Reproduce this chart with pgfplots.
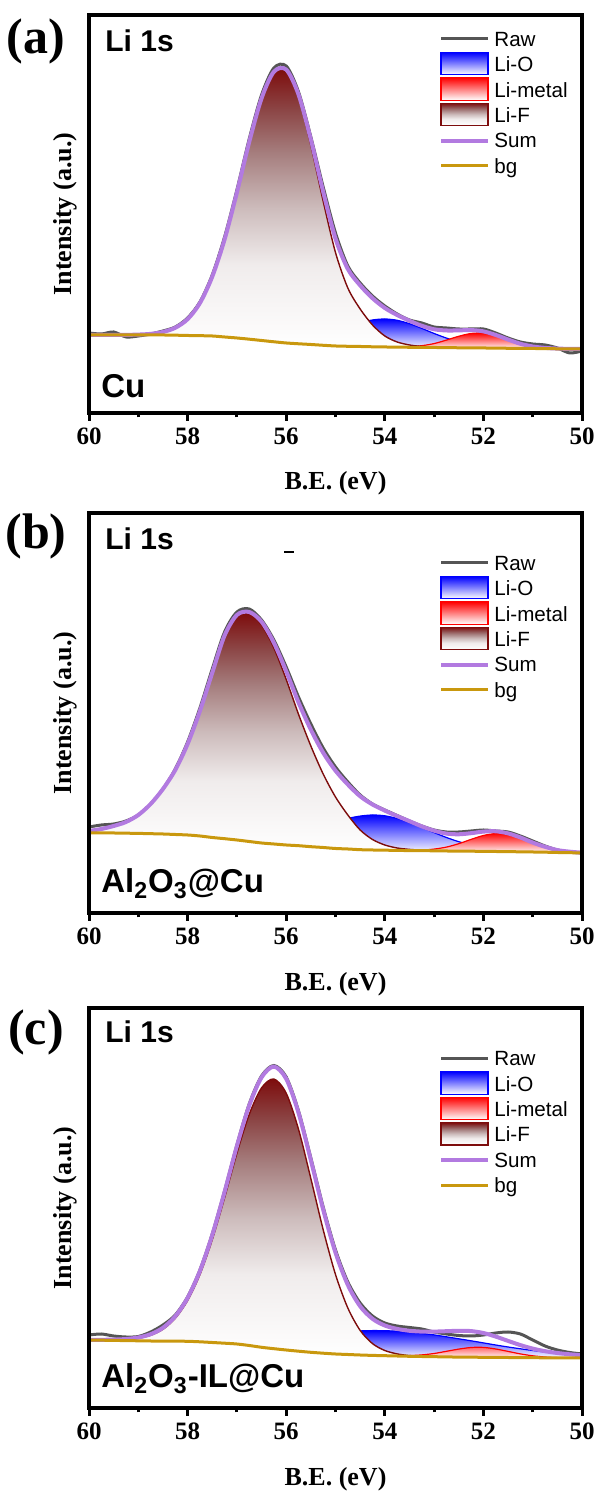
\documentclass[border=0pt]{standalone}
\usepackage{fontspec}
\setmainfont{Liberation Serif}
\newfontfamily\arial{Liberation Sans}
\usepackage{pgfplots}
\usepackage{pgfplotstable}
\usepgfplotslibrary{fillbetween}
\pgfplotsset{compat=1.18}

\definecolor{rawc}{RGB}{85,85,85}
\definecolor{sumc}{RGB}{178,122,224}
\definecolor{bgc}{RGB}{201,152,14}
\definecolor{lifc}{RGB}{125,12,12}
\definecolor{lifsA}{RGB}{240,236,236}
\definecolor{lifsB}{RGB}{205,188,188}
\definecolor{lifsC}{RGB}{165,125,125}
\definecolor{lifsD}{RGB}{140,70,70}
\pgfdeclareverticalshading{lifshade}{100bp}{color(0bp)=(white); color(25bp)=(white);
  color(40bp)=(lifsA); color(50bp)=(lifsB); color(60bp)=(lifsC); color(67.5bp)=(lifsD);
  color(75bp)=(lifc); color(100bp)=(lifc)}

% y values are heights above the x axis (reference pixels)
% x  bg  LiF  LiO  Limetal  Sum  Raw
\pgfplotstableread{
x bg F O M S R
60 78 78 78 78 78 80
59.75 78 78 78 78 78 79
59.5 78 78 78 78 78 81
59.25 78 78.1 78 78 78.1 76
59 78 78.4 78 78 78.4 77
58.75 78 79.1 78 78 79.1 79
58.5 78 81 78 78 81 82
58.25 77.8 85.2 77.8 77.8 85.2 86
58 77.5 93.8 77.5 77.5 93.8 95
57.75 77.3 109.9 77.3 77.3 109.9 111
57.5 77 136.3 77 77 136.3 138
57.25 76 173.5 76 76 173.5 176
57 75 220.5 75 75 220.5 223
56.75 73.8 270.8 74 73.8 271 274
56.5 72.5 314.3 72.9 72.5 314.7 318
56.25 71.2 340.4 72 71.2 341.2 345
56 70 341.6 71.8 70 343.4 347
55.75 69.2 315 72.6 69.2 318.4 321
55.5 68.5 267.5 74.4 68.5 273.4 276
55.25 67.7 211.7 77.2 67.7 221.2 226
55 67 160.4 81 67 174.4 180
54.75 66.7 125 85.7 66.7 144 147
54.5 66.5 104 90.1 66.5 127.6 130
54.25 66.2 88 93 66.2 114.8 117
54 66 77 94 66 105 107
53.75 65.9 71 92.7 66.1 98 99
53.5 65.7 68 89.3 66.3 92.2 93
53.25 65.6 66.5 84.6 67.3 87.2 90
53 65.5 65.8 79.5 69.4 83.7 86
52.75 65.4 65.5 74.9 72.9 82.5 85
52.5 65.2 65.2 71.1 76.7 82.6 84
52.25 65.1 65.1 68.5 79.5 82.9 84
52 65 65 66.8 79.8 81.6 84
51.75 64.9 64.9 65.7 77.2 78 80
51.5 64.7 64.7 65.1 73 73.4 75
51.25 64.6 64.6 64.7 69.1 69.2 71
51 64.5 64.5 64.5 66.5 66.5 69
50.75 64.4 64.4 64.4 65.1 65.1 68
50.5 64.2 64.2 64.2 64.4 64.4 65
50.25 64.1 64.1 64.1 64.1 64.1 60
50 64 64 64 64 64 62
}\tabA

\pgfplotstableread{
x bg F O M S R
60 80 82 80 80 82 86
59.75 80 84 80 80 84 88
59.5 80 87 80 80 87 89
59.25 79.8 91 79.8 79.8 91 92
59 79.6 98 79.6 79.6 98 98
58.75 79.3 109 79.3 79.3 109 109
58.5 79 124 79 79 124 124
58.25 78.5 143 78.5 78.5 143 144
58 78 169 78 78 169 171
57.75 77 202 77.1 77 202 205
57.5 75.5 240 75.7 75.5 240.2 244
57.25 74.3 277 74.8 74.3 277.5 281
57 73 297 74 73 298 301
56.75 71.5 299.2 73.3 71.5 301 304
56.5 70 288 73.2 70 291.2 293
56.25 69 265 74.2 69 270.2 273
56 68 233.6 76.1 68 241.7 246
55.75 67.3 198.7 79.1 67.3 210.5 216
55.5 66.3 167 82.6 66.3 183.3 189
55.25 65.5 139 86.7 65.5 160.3 165
55 64.5 116 90.7 64.5 142.3 146
54.75 64 98 94.5 64 128.5 131
54.5 63.3 83 96.9 63.3 116.7 118
54.25 63 73.5 98 63 108.5 109
54 62.8 68 97.2 62.8 102.4 103
53.75 62.6 65 94.5 62.6 96.9 97.5
53.5 62.4 63.6 90.4 62.6 91.8 92
53.25 62.3 62.8 85.5 62.9 86.6 87
53 62.2 62.4 80.4 63.9 82.3 83
52.75 62 62 75.5 65.9 79.4 81
52.5 61.9 61.9 71.3 69.3 78.7 81
52.25 61.8 61.8 68 73.6 79.8 82
52 61.6 61.6 65.5 77.5 81.4 83
51.75 61.5 61.5 63.8 79.4 81.7 82
51.5 61.3 61.3 62.6 78.3 79.6 81
51.25 61.2 61.2 61.9 74.8 75.5 77
51 61 61 61.3 70.1 70.4 72
50.75 60.8 60.8 61 66 66.2 67
50.5 60.5 60.5 60.6 62.9 62.9 63
50.25 60.3 60.3 60.3 61.3 61.3 61
50 60 60 60 60.3 60.3 60
}\tabB

\pgfplotstableread{
x bg F O M S R
60 68 68 68.2 68 68.2 73
59.75 67.8 67.9 68.1 67.8 68.2 74
59.5 67.6 68 68 67.6 68.4 72
59.25 67.4 68.4 68 67.4 69 71
59 67.2 69.7 68 67.2 70.5 71.5
58.75 67 72.7 68.1 67 73.8 76
58.5 66.9 78.7 68.4 66.9 80.2 83
58.25 66.8 89.7 68.8 66.8 91.7 93
58 66.7 107.4 69.4 66.7 110.1 111
57.75 66.2 133.4 69.8 66.2 137 138
57.5 65.5 168.3 70.1 65.5 172.9 174
57.25 64.8 210.2 70.6 64.8 216 217
57 64 254.7 71.2 64 261.9 263
56.75 62.5 293.6 71.3 62.5 302.4 304
56.5 60.7 320.1 71.2 60.7 330.6 332
56.25 59.3 329 71.7 59.3 341.4 342.5
56 58 314.8 72.4 58 329.2 331
55.75 56.8 278.7 73.2 56.8 295.1 297
55.5 55.7 229.4 74 55.7 247.7 250
55.25 54.8 178.3 74.9 54.8 198.4 201
55 54 133.5 75.8 54 155.3 158
54.75 53.5 100 76.6 53.5 123.1 126
54.5 53 77.6 77.1 53 101.7 105
54.25 52.6 64.4 77.4 52.6 89.2 92
54 52.3 57.5 77.3 52.3 82.5 85
53.75 52 54.1 76.8 52.2 79.1 82
53.5 51.7 52.4 75.8 52.4 77.2 80.5
53.25 51.5 51.7 74.6 53.1 76.4 79
53 51.3 51.4 73.1 54.5 76.4 76
52.75 51.1 51.1 71.2 56.7 76.8 74
52.5 50.9 50.9 69.2 58.9 77.2 72.5
52.25 50.8 50.8 67.2 60.5 76.9 72
52 50.7 50.7 65.1 60.6 75 73
51.75 50.6 50.6 63 59 71.4 75
51.5 50.5 50.5 61 56.6 67.1 76
51.25 50.4 50.4 59.2 54.1 62.9 74
51 50.3 50.3 57.5 52.2 59.4 68
50.75 50.2 50.2 56 51 56.8 62
50.5 50.1 50.1 54.7 50.4 55 58
50.25 50.05 50.05 53.65 50.05 53.7 55.5
50 50 50 52.7 50 52.7 54
}\tabC

\pgfplotsset{
  xps/.style={
    scale only axis, width=246.5pt,
    xmin=50, xmax=60, x dir=reverse, ymin=0,
    xtick={50,52,54,56,58,60}, minor xtick={51,53,55,57,59},
    xtick pos=left, ytick=\empty,
    tick align=outside, major tick length=4pt, minor tick length=2.2pt,
    tick style={black, line width=1.5pt},
    axis line style={line width=2pt},
    axis on top,
    /pgf/number format/assume math mode=true,
    xticklabel style={font=\fontsize{12.5}{12.5}\selectfont\bfseries},
    xlabel={B.E. (eV)}, ylabel={Intensity (a.u.)},
    label style={font=\fontsize{13}{13}\selectfont\bfseries},
    xlabel style={at={(axis description cs:0.5,-0.1935)}, anchor=base},
    ylabel style={at={(axis description cs:-0.0365,0.5)}, anchor=base},
  },
}

% fills sit on the pre main layer, so the component outlines go there too,
% in drawing order; Sum and bg stay on the main layer above them
\newcommand{\xpscurves}[1]{%
  \addplot[draw=none, smooth, name path=bgp, forget plot] table[x=x, y=bg]{#1};
  \addplot[rawc, line width=1.5pt, smooth, forget plot, on layer=pre main] table[x=x, y=R]{#1};
  \addplot[draw=none, smooth, name path=op, forget plot] table[x=x, y=O]{#1};
  \addplot[top color=blue, bottom color=white, draw=none, forget plot] fill between[of=op and bgp];
  \addplot[blue, line width=0.6pt, smooth, forget plot, on layer=pre main] table[x=x, y=O]{#1};
  \addplot[draw=none, smooth, name path=mp, forget plot] table[x=x, y=M]{#1};
  \addplot[top color=red, bottom color=white, draw=none, forget plot] fill between[of=mp and bgp];
  \addplot[red, line width=0.6pt, smooth, forget plot, on layer=pre main] table[x=x, y=M]{#1};
  \addplot[draw=none, smooth, name path=fp, forget plot] table[x=x, y=F]{#1};
  \addplot[shade, shading=lifshade, draw=none, forget plot] fill between[of=fp and bgp];
  \addplot[lifc, line width=0.7pt, smooth, forget plot, on layer=pre main] table[x=x, y=F]{#1};
  \addplot[sumc, line width=2pt, smooth, forget plot] table[x=x, y=S]{#1};
  \addplot[bgc, line width=1.5pt, smooth, forget plot] table[x=x, y=bg]{#1};
}

\newcommand{\xpslegend}[1]{%
  \begin{scope}[yshift=#1, every node/.style={anchor=base west, inner sep=0pt, font=\arial\fontsize{10.3}{10.3}\selectfont}]
    \draw[rawc, line width=1.5pt] (220.5pt,0pt) -- (244pt,0pt);
    \node at (247pt,-3.7pt) {Raw};
    \draw[blue, line width=0.6pt, top color=blue, bottom color=white] (220.5pt,-17.9pt) rectangle (244pt,-6.7pt);
    \node at (247pt,-16.4pt) {Li-O};
    \draw[red, line width=0.6pt, top color=red, bottom color=white] (220.5pt,-30.6pt) rectangle (244pt,-19.4pt);
    \node at (247pt,-29.1pt) {Li-metal};
    \draw[lifc, line width=0.6pt, shade, shading=lifshade] (220.5pt,-43.3pt) rectangle (244pt,-32.1pt);
    \node at (247pt,-41.8pt) {Li-F};
    \draw[sumc, line width=2pt] (220.5pt,-50.8pt) -- (244pt,-50.8pt);
    \node at (247pt,-54.5pt) {Sum};
    \draw[bgc, line width=1.5pt] (220.5pt,-63.5pt) -- (244pt,-63.5pt);
    \node at (247pt,-67.2pt) {bg};
  \end{scope}}

\begin{document}
\begin{tikzpicture}

% (a) Cu
\begin{axis}[xps, height=199pt, ymax=398, at={(44.5pt,539.5pt)}, anchor=south west]
\xpscurves{\tabA}
\end{axis}

% (b) Al2O3@Cu
\begin{axis}[xps, height=200pt, ymax=400, at={(44.5pt,289.5pt)}, anchor=south west]
\xpscurves{\tabB}
\end{axis}

% (c) Al2O3-IL@Cu
\begin{axis}[xps, height=200pt, ymax=400, at={(44.5pt,42pt)}, anchor=south west]
\xpscurves{\tabC}
\end{axis}

\xpslegend{726.5pt}
\xpslegend{464.5pt}
\xpslegend{216.8pt}

\begin{scope}[every node/.style={font=\fontsize{25}{25}\selectfont\bfseries}]
  \node at (18pt,725pt) {(a)};
  \node at (18pt,478pt) {(b)};
  \node at (18pt,230pt) {(c)};
\end{scope}

\begin{scope}[every node/.style={anchor=base west, inner sep=0pt}]
  \node[font=\arial\bfseries\fontsize{15}{15}\selectfont] at (52.5pt,720pt) {Li 1s};
  \node[font=\arial\bfseries\fontsize{15}{15}\selectfont] at (52.5pt,471pt) {Li 1s};
  \node[font=\arial\bfseries\fontsize{15}{15}\selectfont] at (52.5pt,224.5pt) {Li 1s};
  \node[font=\arial\bfseries\fontsize{16.5}{16.5}\selectfont] at (50.5pt,547pt) {Cu};
  \node[font=\arial\bfseries\fontsize{16.5}{16.5}\selectfont] at (50.5pt,299.5pt) {Al\textsubscript{2}O\textsubscript{3}@Cu};
  \node[font=\arial\bfseries\fontsize{16.5}{16.5}\selectfont] at (50.5pt,52pt) {Al\textsubscript{2}O\textsubscript{3}-IL@Cu};
\end{scope}
\draw[line width=0.8pt] (142pt,470pt) -- (147pt,470pt);

\pgfresetboundingbox
\path[use as bounding box] (0pt,0pt) rectangle (299.5pt,746pt);
\end{tikzpicture}
\end{document}
